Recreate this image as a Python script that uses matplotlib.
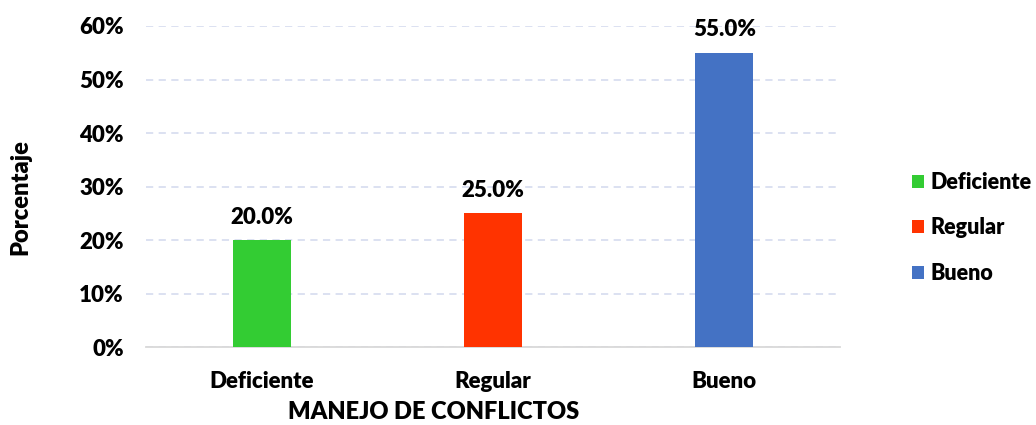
import matplotlib
matplotlib.use("Agg")
import matplotlib.pyplot as plt
from matplotlib.patches import Patch
from matplotlib.ticker import FuncFormatter

categories = ["Deficiente", "Regular", "Bueno"]
values = [20.0, 25.0, 55.0]
colors = ["#33CC33", "#FF3300", "#4472C4"]
yticks = [0, 10, 20, 30, 40, 50, 60]

W = 'heavy'
plt.rcParams['font.family'] = ['Lato', 'DejaVu Sans']
plt.rcParams['font.weight'] = W

fig = plt.figure(figsize=(10.36, 4.25), dpi=100)
ax = fig.add_axes([146/1036, 1 - 347/425, (840-146)/1036, (347-26)/425])

FS = 16

x = list(range(len(categories)))
ax.bar(x, values, width=0.25, color=colors, zorder=3)
ax.set_xlim(-0.5, 2.5)
ax.set_ylim(0, 60)
ax.set_yticks(yticks)
ax.yaxis.set_major_formatter(FuncFormatter(lambda v, p: f"{v:.0f}%"))
ax.set_xticks(x)
ax.set_xticklabels(categories)
ax.grid(axis='y', color='#D9DEF0', linestyle=(0, (4, 3)), linewidth=1.3, zorder=0)
for s in ['top', 'right', 'left']:
    ax.spines[s].set_visible(False)
ax.spines['bottom'].set_color('#D9D9D9')
ax.spines['bottom'].set_linewidth(1.3)
ax.tick_params(axis='both', length=0, labelsize=FS, colors='black')
ax.tick_params(axis='y', pad=16)
ax.tick_params(axis='x', pad=17)
for lbl in ax.get_xticklabels() + ax.get_yticklabels():
    lbl.set_fontweight(W)

for xi, v in zip(x, values):
    ax.annotate(f"{v:.1f}%", (xi, v), xytext=(0, 9), textcoords='offset points',
                ha='center', va='bottom', fontsize=FS, fontweight=W)

ax.set_xlabel("MANEJO DE CONFLICTOS", fontsize=17, fontweight=W)
ax.xaxis.set_label_coords((434-146)/(840-146), -(412-347)/(347-26))
ax.xaxis.label.set_va('center')
ax.set_ylabel("Porcentaje", fontsize=17, fontweight=W)
ax.yaxis.set_label_coords(-(146-20)/(840-146), (347-197)/(347-26))
ax.yaxis.label.set_va('center')

handles = [Patch(facecolor=c, label=l) for c, l in zip(colors, categories)]
fig.legend(handles=handles, loc='center left', bbox_to_anchor=(893/1036, 1 - 228/425),
           frameon=False, handlelength=0.55, handleheight=0.55,
           handletextpad=0.3, labelspacing=1.15, prop={'weight': W, 'size': 15.5})

fig.savefig("out.png", dpi=100)
